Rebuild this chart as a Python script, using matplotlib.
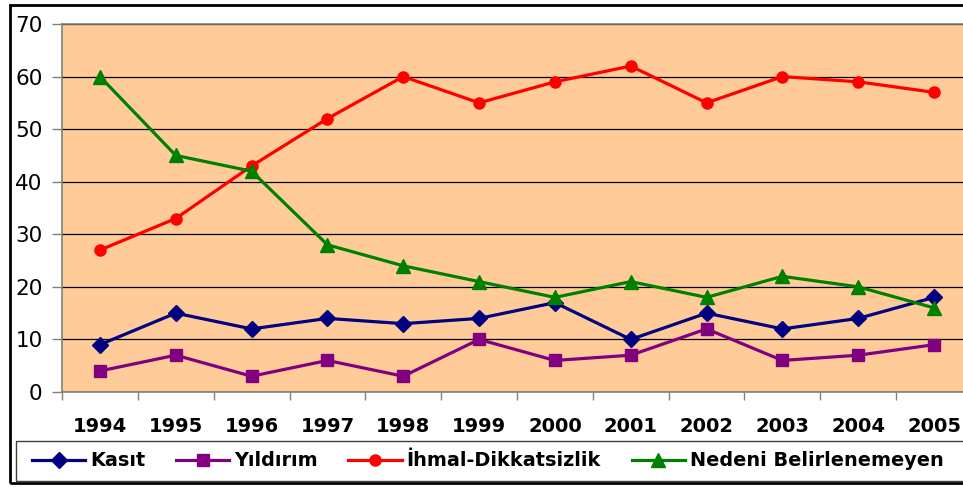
import matplotlib
matplotlib.use("Agg")
import matplotlib.pyplot as plt
from matplotlib.patches import Rectangle
import numpy as np

plt.rcParams['font.family'] = ['DejaVu Sans']

years = ['1994', '1995', '1996', '1997', '1998', '1999', '2000', '2001', '2002', '2003', '2004', '2005']
kasit = [9, 15, 12, 14, 13, 14, 17, 10, 15, 12, 14, 18]
yildirim = [4, 7, 3, 6, 3, 10, 6, 7, 12, 6, 7, 9]
ihmal = [27, 33, 43, 52, 60, 55, 59, 62, 55, 60, 59, 57]
nedeni = [60, 45, 42, 28, 24, 21, 18, 21, 18, 22, 20, 16]

series = [
    ('Kasıt', kasit, '#000080', 'D', 8.5),
    ('Yıldırım', yildirim, '#800080', 's', 8),
    ('İhmal-Dikkatsizlik', ihmal, '#FF0000', 'o', 8),
    ('Nedeni Belirlenemeyen', nedeni, '#008000', '^', 9.5),
]

W, H = 963, 487
fig = plt.figure(figsize=(W / 100, H / 100), dpi=100)
fig.patch.set_facecolor('white')

# outer border
fig.add_artist(Rectangle((10 / W, 1 - 483 / H), 1.1, (483 - 5) / H, transform=fig.transFigure,
                         fill=False, edgecolor='black', linewidth=2.0))

ax = fig.add_axes([62 / W, 1 - 392 / H, (972 - 62) / W, (392 - 24) / H])
ax.set_facecolor('#FFCC99')
x = np.arange(len(years))
handles = []
for name, vals, col, mk, ms in series:
    h, = ax.plot(x, vals, color=col, marker=mk, markersize=ms, linewidth=2.3,
                 markerfacecolor=col, markeredgecolor=col, label=name, clip_on=False)
    handles.append(h)

ax.set_xlim(-0.5, len(years) - 0.5)
ax.set_ylim(0, 70)
ax.set_yticks(np.arange(0, 71, 10))
ax.yaxis.grid(True, color='black', linewidth=0.9)
ax.set_axisbelow(True)
ax.tick_params(axis='y', labelsize=15.5, length=7, width=1, color='#808080', pad=7, direction='out')
ax.set_xticks(x)
ax.set_xticklabels(years, fontweight='bold', fontsize=14)
ax.tick_params(axis='x', which='major', length=0, pad=18)
ax.set_xticks(np.arange(-0.5, len(years), 1), minor=True)
ax.tick_params(axis='x', which='minor', length=6, width=1, color='#808080', direction='out')
for s in ['left', 'bottom', 'top']:
    ax.spines[s].set_color('#808080')
    ax.spines[s].set_linewidth(1.2)
ax.spines['right'].set_visible(False)

# legend box
fig.add_artist(Rectangle((16 / W, 1 - 481 / H), 1.1, (481 - 441) / H, transform=fig.transFigure,
                         fill=False, edgecolor='#404040', linewidth=1.0))
fig.legend(handles=handles, loc='center left', bbox_to_anchor=(32 / W, 1 - 461 / H), ncol=4,
           frameon=False, prop={'weight': 'bold', 'size': 13.9}, handlelength=2.75,
           handletextpad=0.25, columnspacing=1.6, borderaxespad=0, borderpad=0)

fig.savefig('out.png', dpi=100)
